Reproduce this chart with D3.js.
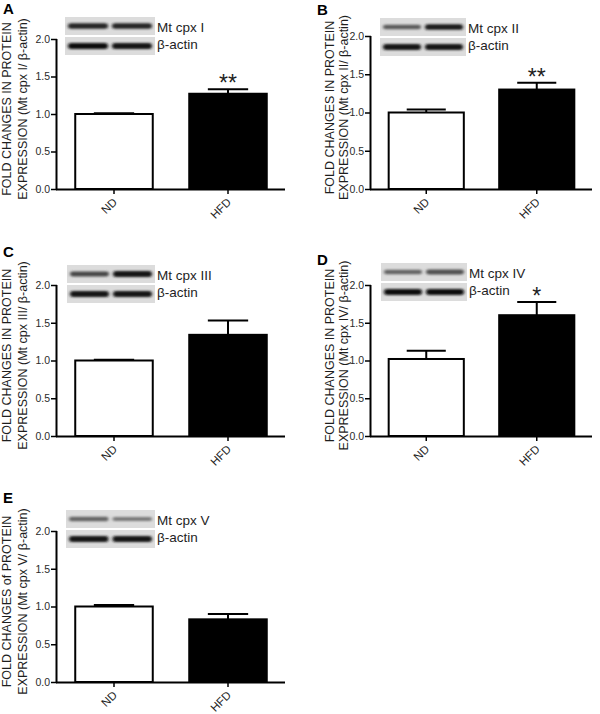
<!DOCTYPE html>
<html>
<head>
<meta charset="utf-8">
<script src="https://cdn.jsdelivr.net/npm/d3@7"></script>
<style>
    html, body { margin: 0; padding: 0; background: #fff; }
    svg { display: block; font-family: 'Liberation Sans', Arial, sans-serif; }
</style>
</head>
<body>
<svg id="chart" width="600" height="714"></svg>
<script>
const categories = ['ND', 'HFD'];
const panelLetters = ['A', 'B', 'C', 'D', 'E'];
const complexNames = ['Mt cpx I', 'Mt cpx II', 'Mt cpx III', 'Mt cpx IV', 'Mt cpx V'];
const meanND = [1.00, 1.00, 1.00, 1.02, 1.00];
const meanHFD = [1.27, 1.30, 1.34, 1.60, 0.83];
const semND = [0.01, 0.04, 0.01, 0.11, 0.02];
const semHFD = [0.06, 0.09, 0.19, 0.175, 0.07];
const significance = ['**', '**', '', '*', ''];
const yTicks = [0, 0.5, 1.0, 1.5, 2.0];
const yLabelLine1 = [
    'FOLD CHANGES IN PROTEIN',
    'FOLD CHANGES IN PROTEIN',
    'FOLD CHANGES IN PROTEIN',
    'FOLD CHANGES IN PROTEIN',
    'FOLD CHANGES of PROTEIN'
];
const yLabelLine2 = [
    'EXPRESSION (Mt cpx I/ \u03b2-actin)',
    'EXPRESSION (Mt cpx II/ \u03b2-actin)',
    'EXPRESSION (Mt cpx III/ \u03b2-actin)',
    'EXPRESSION (Mt cpx IV/ \u03b2-actin)',
    'EXPRESSION (Mt cpx V/ \u03b2-actin)'
];
// band darkness (0..1) of the two lanes, ND then HFD
const blotTarget = [[0.85, 0.85], [0.6, 0.92], [0.7, 0.95], [0.55, 0.65], [0.55, 0.45]];
const blotActin = [[0.97, 0.95], [0.95, 0.95], [0.95, 0.95], [1.0, 1.0], [0.95, 0.95]];

// panel placement (not data)
const layout = [
    { x: 57, top: 39, bottom: 189, right: 285, letter: [3, 14], blot: [65, 17, 90], lab: [-46.5, -30] },
    { x: 371, top: 36, bottom: 189, right: 592, letter: [317, 15], blot: [380, 18, 86], lab: [-37.5, -23] },
    { x: 57, top: 285, bottom: 436, right: 285, letter: [3, 257], blot: [67, 265, 88], lab: [-46.5, -30] },
    { x: 371, top: 285, bottom: 436, right: 592, letter: [317, 265], blot: [381, 263, 86], lab: [-37.5, -23] },
    { x: 57, top: 531, bottom: 682, right: 285, letter: [3, 503], blot: [66, 510, 89], lab: [-46.5, -30] }
];

const svg = d3.select('#chart');
const textColor = '#1e1e1e';

const defs = svg.append('defs');
defs.append('filter')
    .attr('id', 'bandBlur')
    .attr('x', '-20%').attr('y', '-100%')
    .attr('width', '140%').attr('height', '300%')
    .append('feGaussianBlur')
    .attr('stdDeviation', '1.8 1.0');

const bandColor = d3.interpolateRgb('#d4d4d4', '#0a0a0a');

const drawStrip = (g, x, y, w, h, lanes) => {
    g.append('rect')
        .attr('x', x).attr('y', y)
        .attr('width', w).attr('height', h)
        .attr('fill', '#dcdcdc');

    const laneW = (w - 10) / 2;
    lanes.forEach((v, i) => {
        const bh = 2.5 + 3.5 * v;
        g.append('rect')
            .attr('x', x + 3 + i * (laneW + 4))
            .attr('y', y + h / 2 - bh / 2)
            .attr('width', laneW)
            .attr('height', bh)
            .attr('rx', bh / 2)
            .attr('fill', bandColor(v))
            .attr('filter', 'url(#bandBlur)');
    });
};

const drawPanel = (p) => {
    const L = layout[p];
    const g = svg.append('g');

    const y = d3.scaleLinear().domain([0, 2]).range([L.bottom, L.top]);
    const x = d3.scaleBand()
        .domain(categories)
        .range([L.x, L.right])
        .paddingInner(0.32)
        .paddingOuter(0.16);

    // panel letter
    g.append('text')
        .attr('x', L.letter[0]).attr('y', L.letter[1])
        .attr('font-size', 15).attr('font-weight', 'bold')
        .attr('fill', '#000')
        .text(panelLetters[p]);

    // y label, two lines
    const cy = (L.top + L.bottom) / 2 - 5;
    [yLabelLine1[p], yLabelLine2[p]].forEach((t, i) => {
        g.append('text')
            .attr('transform', `translate(${L.x + L.lab[i]}, ${cy}) rotate(-90)`)
            .attr('text-anchor', 'middle')
            .attr('font-size', 12.5)
            .attr('fill', textColor)
            .text(t);
    });

    // blot inset
    const [bx, by, bw] = L.blot;
    const blot = g.append('g');
    drawStrip(blot, bx, by, bw, 18, blotTarget[p]);
    drawStrip(blot, bx, by + 20, bw, 18, blotActin[p]);
    blot.append('text')
        .attr('x', bx + bw + 2).attr('y', by + 15)
        .attr('font-size', 13.5).attr('fill', textColor)
        .text(complexNames[p]);
    blot.append('text')
        .attr('x', bx + bw + 2).attr('y', by + 32)
        .attr('font-size', 13.5).attr('fill', textColor)
        .text('\u03b2-actin');

    // bars
    const means = [meanND[p], meanHFD[p]];
    const sems = [semND[p], semHFD[p]];
    const bars = categories.map((c, i) => ({ c, v: means[i], e: sems[i], fill: i === 0 ? '#fff' : '#000' }));

    // error bars (upper only)
    const capW = x.bandwidth() * 0.52;
    const eb = g.selectAll('.err').data(bars).enter().append('g');
    eb.append('line')
        .attr('x1', d => x(d.c) + x.bandwidth() / 2)
        .attr('x2', d => x(d.c) + x.bandwidth() / 2)
        .attr('y1', d => y(d.v))
        .attr('y2', d => y(d.v + d.e))
        .attr('stroke', '#000').attr('stroke-width', 2);
    eb.append('line')
        .attr('x1', d => x(d.c) + x.bandwidth() / 2 - capW / 2)
        .attr('x2', d => x(d.c) + x.bandwidth() / 2 + capW / 2)
        .attr('y1', d => y(d.v + d.e))
        .attr('y2', d => y(d.v + d.e))
        .attr('stroke', '#000').attr('stroke-width', 2);

    g.selectAll('.bar').data(bars).enter().append('rect')
        .attr('x', d => x(d.c))
        .attr('y', d => y(d.v))
        .attr('width', x.bandwidth())
        .attr('height', d => y(0) - y(d.v))
        .attr('fill', d => d.fill)
        .attr('stroke', '#000')
        .attr('stroke-width', 2);

    // significance
    g.selectAll('.sig').data(bars.filter((d, i) => i === 1 && significance[p])).enter().append('text')
        .attr('x', d => x(d.c) + x.bandwidth() / 2)
        .attr('y', d => y(d.v + d.e) + 2)
        .attr('text-anchor', 'middle')
        .attr('font-size', 23)
        .attr('fill', textColor)
        .text(significance[p]);

    // y axis
    const yAxis = g.append('g')
        .attr('transform', `translate(${L.x}, 0)`)
        .call(d3.axisLeft(y).tickValues(yTicks).tickFormat(d3.format('.1f')).tickSize(6).tickPadding(1));
    yAxis.select('.domain').attr('d', `M-0.5,${L.top}V${L.bottom}`).attr('stroke-width', 2);
    yAxis.selectAll('.tick line').attr('stroke-width', 1.5);
    yAxis.selectAll('.tick text').attr('font-size', 10.5).attr('fill', '#2a2a2a').attr('font-family', null);

    // x axis
    const xAxis = g.append('g')
        .attr('transform', `translate(0, ${L.bottom})`)
        .call(d3.axisBottom(x).tickSize(5).tickFormat(''));
    xAxis.select('.domain').attr('d', `M${L.x - 1},0.5H${L.right}`).attr('stroke-width', 2);
    xAxis.selectAll('.tick line').attr('stroke-width', 1.5);

    g.selectAll('.xlab').data(categories).enter().append('text')
        .attr('transform', d => `translate(${x(d) + x.bandwidth() / 2 + 1}, ${L.bottom + 11}) rotate(-45)`)
        .attr('text-anchor', 'end')
        .attr('dy', '0.35em')
        .attr('font-size', 11.5)
        .attr('fill', textColor)
        .text(d => d);
};

layout.forEach((d, i) => drawPanel(i));
</script>
</body>
</html>
